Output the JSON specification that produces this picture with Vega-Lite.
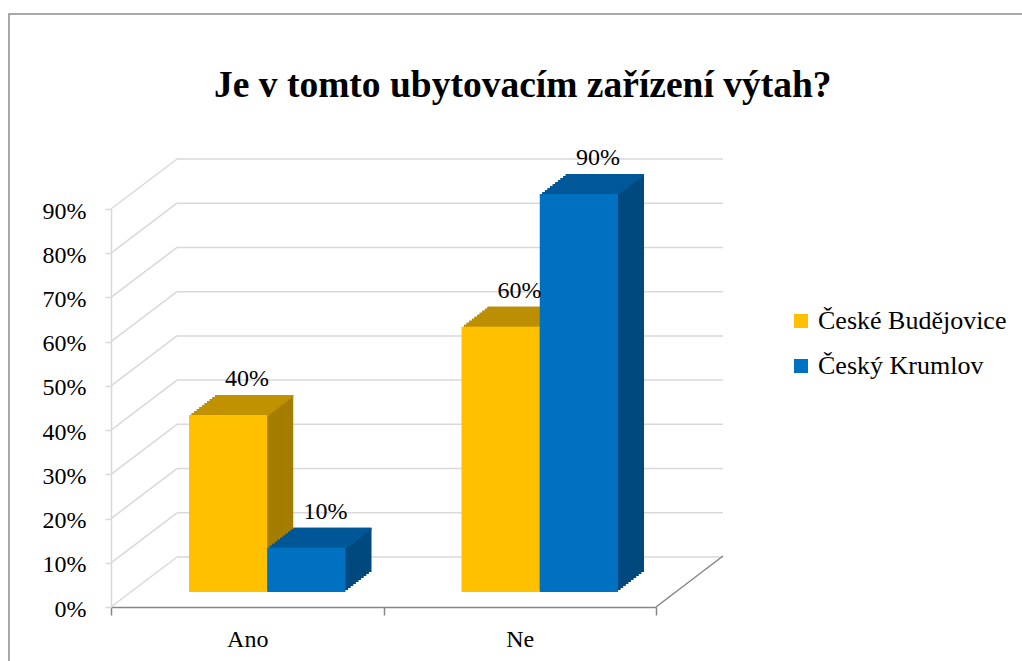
{
  "$schema": "https://vega.github.io/schema/vega-lite/v6.json",
  "width": 1020,
  "height": 660,
  "autosize": {"type": "none"},
  "padding": {"left": 9, "top": 14, "right": 0, "bottom": 0},
  "background": "white",
  "title": {
    "text": "Je v tomto ubytovacím zařízení výtah?",
    "font": "Liberation Serif",
    "fontSize": 37.5,
    "fontWeight": "bold",
    "color": "black",
    "anchor": "start",
    "frame": "group",
    "offset": 0,
    "baseline": "alphabetic",
    "dy": 120,
    "dx": 205
  },
  "resolve": {"scale": {"xOffset": "independent"}},
  "config": {
    "view": {"stroke": "#8c8c8c", "strokeWidth": 1.5},
    "axisX": {
      "offset": -67,
      "domainColor": "#868686",
      "domainWidth": 1.5,
      "tickColor": "#868686",
      "tickWidth": 1.5,
      "tickSize": 8,
      "tickBand": "extent",
      "labelFont": "Liberation Serif",
      "labelFontSize": 24,
      "labelColor": "black",
      "labelAngle": 0,
      "labelPadding": 12,
      "grid": false
    },
    "axisY": {
      "offset": -102,
      "domainColor": "#d9d9d9",
      "domainWidth": 1.5,
      "tickColor": "#d9d9d9",
      "tickWidth": 1.5,
      "tickSize": 6,
      "labelFont": "Liberation Serif",
      "labelFontSize": 24,
      "labelColor": "black",
      "labelPadding": 19,
      "labelOffset": 2,
      "format": ".0%",
      "grid": false
    },
    "legend": {
      "labelFont": "Liberation Serif",
      "labelFontSize": 26,
      "labelColor": "black",
      "labelLimit": 400
    }
  },
  "datasets": {
    "bars": [
      {"cat": "Ano", "series": "České Budějovice", "v": 0.4},
      {"cat": "Ano", "series": "Český Krumlov", "v": 0.1},
      {"cat": "Ne", "series": "České Budějovice", "v": 0.6},
      {"cat": "Ne", "series": "Český Krumlov", "v": 0.9}
    ],
    "grid": [
      {"t": 0}, {"t": 0.1}, {"t": 0.2}, {"t": 0.3}, {"t": 0.4},
      {"t": 0.5}, {"t": 0.6}, {"t": 0.7}, {"t": 0.8}, {"t": 0.9}
    ]
  },
  "layer": [
    {
      "data": {"name": "grid"},
      "mark": {"type": "rule", "color": "#d9d9d9", "strokeWidth": 1.5, "xOffset": 66, "x2Offset": 67, "yOffset": -50},
      "encoding": {
        "x": {"datum": "Ano", "type": "nominal", "bandPosition": 0, "title": null, "scale": {"range": [102, 647], "paddingInner": 0, "paddingOuter": 0}},
        "x2": {"datum": "Ne", "bandPosition": 1},
        "y": {"field": "t", "type": "quantitative", "title": null, "scale": {"domain": [0, 0.9], "range": [593, 195]}, "axis": {"values": [0, 0.1, 0.2, 0.3, 0.4, 0.5, 0.6, 0.7, 0.8, 0.9]}}
      }
    },
    {
      "data": {"name": "grid"},
      "mark": {"type": "rule", "color": "#d9d9d9", "strokeWidth": 1.5, "x2Offset": 66, "y2Offset": -50},
      "encoding": {
        "x": {"datum": "Ano", "type": "nominal", "bandPosition": 0, "title": null},
        "x2": {"datum": "Ano", "bandPosition": 0},
        "y": {"field": "t", "type": "quantitative", "title": null},
        "y2": {"field": "t"}
      }
    },
    {
      "data": {"name": "grid"},
      "transform": [{"filter": "datum.t === 0"}],
      "mark": {"type": "rule", "color": "#868686", "strokeWidth": 1.5, "x2Offset": 67, "y2Offset": -51},
      "encoding": {
        "x": {"datum": "Ne", "type": "nominal", "bandPosition": 1, "title": null},
        "x2": {"datum": "Ne", "bandPosition": 1},
        "y": {"field": "t", "type": "quantitative", "title": null},
        "y2": {"field": "t"}
      }
    },
    {"data": {"name": "bars"}, "mark": {"type": "bar", "yOffset": -35, "y2Offset": -35},
      "encoding": {"x": {"field": "cat", "type": "nominal", "title": null}, "xOffset": {"field": "series", "scale": {"range": [46, 318.5], "paddingInner": 0, "paddingOuter": 0.741}}, "y": {"field": "v", "type": "quantitative", "title": null}, "y2": {"datum": 0},
        "fill": {"condition": {"test": "datum.series === 'České Budějovice'", "value": "#A57D00"}, "value": "#00497F"}}},
    {"data": {"name": "bars"}, "mark": {"type": "bar", "yOffset": -35, "y2Offset": -32.7},
      "encoding": {"x": {"field": "cat", "type": "nominal", "title": null}, "xOffset": {"field": "series", "scale": {"range": [46, 318.5], "paddingInner": 0, "paddingOuter": 0.741}}, "y": {"field": "v", "type": "quantitative", "title": null}, "y2": {"field": "v"},
        "fill": {"condition": {"test": "datum.series === 'České Budějovice'", "value": "#C09100"}, "value": "#005899"}}},
    {"data": {"name": "bars"}, "mark": {"type": "bar", "yOffset": -33, "y2Offset": -33},
      "encoding": {"x": {"field": "cat", "type": "nominal", "title": null}, "xOffset": {"field": "series", "scale": {"range": [43.4, 315.9], "paddingInner": 0, "paddingOuter": 0.741}}, "y": {"field": "v", "type": "quantitative", "title": null}, "y2": {"datum": 0},
        "fill": {"condition": {"test": "datum.series === 'České Budějovice'", "value": "#A57D00"}, "value": "#00497F"}}},
    {"data": {"name": "bars"}, "mark": {"type": "bar", "yOffset": -33, "y2Offset": -30.7},
      "encoding": {"x": {"field": "cat", "type": "nominal", "title": null}, "xOffset": {"field": "series", "scale": {"range": [43.4, 315.9], "paddingInner": 0, "paddingOuter": 0.741}}, "y": {"field": "v", "type": "quantitative", "title": null}, "y2": {"field": "v"},
        "fill": {"condition": {"test": "datum.series === 'České Budějovice'", "value": "#C09100"}, "value": "#005899"}}},
    {"data": {"name": "bars"}, "mark": {"type": "bar", "yOffset": -31, "y2Offset": -31},
      "encoding": {"x": {"field": "cat", "type": "nominal", "title": null}, "xOffset": {"field": "series", "scale": {"range": [40.8, 313.3], "paddingInner": 0, "paddingOuter": 0.741}}, "y": {"field": "v", "type": "quantitative", "title": null}, "y2": {"datum": 0},
        "fill": {"condition": {"test": "datum.series === 'České Budějovice'", "value": "#A57D00"}, "value": "#00497F"}}},
    {"data": {"name": "bars"}, "mark": {"type": "bar", "yOffset": -31, "y2Offset": -28.7},
      "encoding": {"x": {"field": "cat", "type": "nominal", "title": null}, "xOffset": {"field": "series", "scale": {"range": [40.8, 313.3], "paddingInner": 0, "paddingOuter": 0.741}}, "y": {"field": "v", "type": "quantitative", "title": null}, "y2": {"field": "v"},
        "fill": {"condition": {"test": "datum.series === 'České Budějovice'", "value": "#C09100"}, "value": "#005899"}}},
    {"data": {"name": "bars"}, "mark": {"type": "bar", "yOffset": -29, "y2Offset": -29},
      "encoding": {"x": {"field": "cat", "type": "nominal", "title": null}, "xOffset": {"field": "series", "scale": {"range": [38.2, 310.7], "paddingInner": 0, "paddingOuter": 0.741}}, "y": {"field": "v", "type": "quantitative", "title": null}, "y2": {"datum": 0},
        "fill": {"condition": {"test": "datum.series === 'České Budějovice'", "value": "#A57D00"}, "value": "#00497F"}}},
    {"data": {"name": "bars"}, "mark": {"type": "bar", "yOffset": -29, "y2Offset": -26.7},
      "encoding": {"x": {"field": "cat", "type": "nominal", "title": null}, "xOffset": {"field": "series", "scale": {"range": [38.2, 310.7], "paddingInner": 0, "paddingOuter": 0.741}}, "y": {"field": "v", "type": "quantitative", "title": null}, "y2": {"field": "v"},
        "fill": {"condition": {"test": "datum.series === 'České Budějovice'", "value": "#C09100"}, "value": "#005899"}}},
    {"data": {"name": "bars"}, "mark": {"type": "bar", "yOffset": -27, "y2Offset": -27},
      "encoding": {"x": {"field": "cat", "type": "nominal", "title": null}, "xOffset": {"field": "series", "scale": {"range": [35.6, 308.1], "paddingInner": 0, "paddingOuter": 0.741}}, "y": {"field": "v", "type": "quantitative", "title": null}, "y2": {"datum": 0},
        "fill": {"condition": {"test": "datum.series === 'České Budějovice'", "value": "#A57D00"}, "value": "#00497F"}}},
    {"data": {"name": "bars"}, "mark": {"type": "bar", "yOffset": -27, "y2Offset": -24.7},
      "encoding": {"x": {"field": "cat", "type": "nominal", "title": null}, "xOffset": {"field": "series", "scale": {"range": [35.6, 308.1], "paddingInner": 0, "paddingOuter": 0.741}}, "y": {"field": "v", "type": "quantitative", "title": null}, "y2": {"field": "v"},
        "fill": {"condition": {"test": "datum.series === 'České Budějovice'", "value": "#C09100"}, "value": "#005899"}}},
    {"data": {"name": "bars"}, "mark": {"type": "bar", "yOffset": -25, "y2Offset": -25},
      "encoding": {"x": {"field": "cat", "type": "nominal", "title": null}, "xOffset": {"field": "series", "scale": {"range": [33, 305.5], "paddingInner": 0, "paddingOuter": 0.741}}, "y": {"field": "v", "type": "quantitative", "title": null}, "y2": {"datum": 0},
        "fill": {"condition": {"test": "datum.series === 'České Budějovice'", "value": "#A57D00"}, "value": "#00497F"}}},
    {"data": {"name": "bars"}, "mark": {"type": "bar", "yOffset": -25, "y2Offset": -22.7},
      "encoding": {"x": {"field": "cat", "type": "nominal", "title": null}, "xOffset": {"field": "series", "scale": {"range": [33, 305.5], "paddingInner": 0, "paddingOuter": 0.741}}, "y": {"field": "v", "type": "quantitative", "title": null}, "y2": {"field": "v"},
        "fill": {"condition": {"test": "datum.series === 'České Budějovice'", "value": "#C09100"}, "value": "#005899"}}},
    {"data": {"name": "bars"}, "mark": {"type": "bar", "yOffset": -23, "y2Offset": -23},
      "encoding": {"x": {"field": "cat", "type": "nominal", "title": null}, "xOffset": {"field": "series", "scale": {"range": [30.4, 302.9], "paddingInner": 0, "paddingOuter": 0.741}}, "y": {"field": "v", "type": "quantitative", "title": null}, "y2": {"datum": 0},
        "fill": {"condition": {"test": "datum.series === 'České Budějovice'", "value": "#A57D00"}, "value": "#00497F"}}},
    {"data": {"name": "bars"}, "mark": {"type": "bar", "yOffset": -23, "y2Offset": -20.7},
      "encoding": {"x": {"field": "cat", "type": "nominal", "title": null}, "xOffset": {"field": "series", "scale": {"range": [30.4, 302.9], "paddingInner": 0, "paddingOuter": 0.741}}, "y": {"field": "v", "type": "quantitative", "title": null}, "y2": {"field": "v"},
        "fill": {"condition": {"test": "datum.series === 'České Budějovice'", "value": "#C09100"}, "value": "#005899"}}},
    {"data": {"name": "bars"}, "mark": {"type": "bar", "yOffset": -21, "y2Offset": -21},
      "encoding": {"x": {"field": "cat", "type": "nominal", "title": null}, "xOffset": {"field": "series", "scale": {"range": [27.8, 300.3], "paddingInner": 0, "paddingOuter": 0.741}}, "y": {"field": "v", "type": "quantitative", "title": null}, "y2": {"datum": 0},
        "fill": {"condition": {"test": "datum.series === 'České Budějovice'", "value": "#A57D00"}, "value": "#00497F"}}},
    {"data": {"name": "bars"}, "mark": {"type": "bar", "yOffset": -21, "y2Offset": -18.7},
      "encoding": {"x": {"field": "cat", "type": "nominal", "title": null}, "xOffset": {"field": "series", "scale": {"range": [27.8, 300.3], "paddingInner": 0, "paddingOuter": 0.741}}, "y": {"field": "v", "type": "quantitative", "title": null}, "y2": {"field": "v"},
        "fill": {"condition": {"test": "datum.series === 'České Budějovice'", "value": "#C09100"}, "value": "#005899"}}},
    {"data": {"name": "bars"}, "mark": {"type": "bar", "yOffset": -19, "y2Offset": -19},
      "encoding": {"x": {"field": "cat", "type": "nominal", "title": null}, "xOffset": {"field": "series", "scale": {"range": [25.2, 297.7], "paddingInner": 0, "paddingOuter": 0.741}}, "y": {"field": "v", "type": "quantitative", "title": null}, "y2": {"datum": 0},
        "fill": {"condition": {"test": "datum.series === 'České Budějovice'", "value": "#A57D00"}, "value": "#00497F"}}},
    {"data": {"name": "bars"}, "mark": {"type": "bar", "yOffset": -19, "y2Offset": -16.7},
      "encoding": {"x": {"field": "cat", "type": "nominal", "title": null}, "xOffset": {"field": "series", "scale": {"range": [25.2, 297.7], "paddingInner": 0, "paddingOuter": 0.741}}, "y": {"field": "v", "type": "quantitative", "title": null}, "y2": {"field": "v"},
        "fill": {"condition": {"test": "datum.series === 'České Budějovice'", "value": "#C09100"}, "value": "#005899"}}},
    {"data": {"name": "bars"}, "mark": {"type": "bar", "yOffset": -17, "y2Offset": -17},
      "encoding": {"x": {"field": "cat", "type": "nominal", "title": null}, "xOffset": {"field": "series", "scale": {"range": [22.6, 295.1], "paddingInner": 0, "paddingOuter": 0.741}}, "y": {"field": "v", "type": "quantitative", "title": null}, "y2": {"datum": 0},
        "fill": {"condition": {"test": "datum.series === 'České Budějovice'", "value": "#A57D00"}, "value": "#00497F"}}},
    {"data": {"name": "bars"}, "mark": {"type": "bar", "yOffset": -17, "y2Offset": -14.7},
      "encoding": {"x": {"field": "cat", "type": "nominal", "title": null}, "xOffset": {"field": "series", "scale": {"range": [22.6, 295.1], "paddingInner": 0, "paddingOuter": 0.741}}, "y": {"field": "v", "type": "quantitative", "title": null}, "y2": {"field": "v"},
        "fill": {"condition": {"test": "datum.series === 'České Budějovice'", "value": "#C09100"}, "value": "#005899"}}},
    {"data": {"name": "bars"}, "mark": {"type": "bar", "yOffset": -15, "y2Offset": -15},
      "encoding": {"x": {"field": "cat", "type": "nominal", "title": null}, "xOffset": {"field": "series", "scale": {"range": [20, 292.5], "paddingInner": 0, "paddingOuter": 0.741}}, "y": {"field": "v", "type": "quantitative", "title": null}, "y2": {"datum": 0},
        "color": {"field": "series", "type": "nominal", "scale": {"domain": ["České Budějovice", "Český Krumlov"], "range": ["#FFC000", "#0070C0"]},
          "legend": {"title": null, "orient": "none", "legendX": 779, "legendY": 294, "symbolType": "square", "symbolSize": 196, "symbolStrokeWidth": 0, "labelOffset": 4, "rowPadding": 19}}}},
    {"data": {"name": "bars"}, "mark": {"type": "text", "dx": 19, "yOffset": -44, "font": "Liberation Serif", "fontSize": 24, "baseline": "alphabetic", "color": "black"},
      "encoding": {"x": {"field": "cat", "type": "nominal", "title": null}, "xOffset": {"field": "series", "type": "nominal", "scale": {"type": "band", "range": [20, 292.5], "paddingInner": 0, "paddingOuter": 0.741}}, "y": {"field": "v", "type": "quantitative", "title": null},
        "text": {"field": "v", "type": "quantitative", "format": ".0%"}}}
  ]
}
